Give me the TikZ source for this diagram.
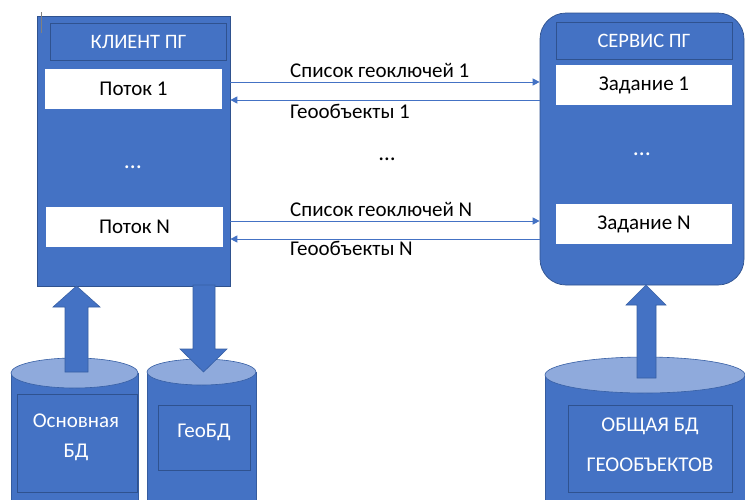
\documentclass[tikz,border=0pt]{standalone}
\usepackage{fontspec}
\setmainfont{Carlito}
\usetikzlibrary{arrows.meta}
\definecolor{ofblue}{HTML}{4472C4}
\definecolor{ofdark}{HTML}{2F528F}
\definecolor{oflight}{HTML}{8FAADC}
\begin{document}
\begin{tikzpicture}[x=1pt,y=-1pt,
  panel/.style={fill=ofblue,draw=ofdark,line width=0.7pt,inner sep=0pt},
  titlebox/.style={fill=ofblue,draw=ofdark,line width=0.7pt,text=white,
    minimum width=176pt,minimum height=37pt,inner sep=0pt,font=\fontsize{20.5}{24}\selectfont},
  itembox/.style={fill=white,draw=none,text=black,minimum width=177pt,minimum height=40pt,
    inner sep=0pt,font=\fontsize{21}{25}\selectfont},
  dotsmark/.style={text=white,font=\fontsize{24}{28}\selectfont,anchor=base,inner sep=0pt},
  flow/.style={draw=ofblue,line width=1pt,-{Triangle[length=7pt,width=7pt]}},
  flowlabel/.style={anchor=base west,inner sep=0pt,font=\fontsize{21}{25}\selectfont},
  dbbody/.style={fill=ofblue,draw=ofdark!70!ofblue,line width=0.6pt},
  dbtop/.style={fill=oflight,draw=ofdark!60!ofblue,line width=0.6pt},
  dbframe/.style={draw=ofdark,line width=0.7pt,fill=ofblue},
  dbtext/.style={text=white,align=center,inner sep=0pt},
  bigarrow/.style={fill=ofblue,draw=ofdark!60!ofblue,line width=0.6pt}]
\useasboundingbox (0,0) rectangle (745,499);
\fill[white] (0,0) rectangle (745,499);

% ---- client
\node[panel,minimum width=193pt,minimum height=270pt] (client) at (133.5,151) {};
\node[titlebox] (ctitle) at (138.5,42) {КЛИЕНТ ПГ};
\node[itembox] (thr1) at (133.5,89) {Поток 1};
\node[itembox] (thrN) at (134.5,227) {Поток N};
\node[dotsmark] (cdots) at (133,168) {…};

% text cursor mark
\draw[gray,line width=0.8pt] (41,12) -- (41,33);

% ---- service
\node[panel,rounded corners=26pt,minimum width=204pt,minimum height=272pt] (service) at (642,149) {};
\node[titlebox] (stitle) at (644,41) {СЕРВИС ПГ};
\node[itembox,minimum width=176pt] (job1) at (644,85) {Задание 1};
\node[itembox,minimum width=176pt] (jobN) at (644,224) {Задание N};
\node[dotsmark] (sdots) at (642,155) {…};

% ---- message arrows
\coordinate (r1) at (0,82);
\coordinate (l1) at (0,100);
\coordinate (rN) at (0,221);
\coordinate (lN) at (0,239);
\draw[flow] (client.east |- r1) -- (service.west |- r1);
\draw[flow] (service.west |- l1) -- (client.east |- l1);
\draw[flow] (client.east |- rN) -- (service.west |- rN);
\draw[flow] (service.west |- lN) -- (client.east |- lN);
\node[flowlabel] (lab1) at (290,77) {Список геоключей 1};
\node[flowlabel] (lab2) at (290,118) {Геообъекты 1};
\node[flowlabel] (lab3) at (290,216) {Список геоключей N};
\node[flowlabel] (lab4) at (290,255) {Геообъекты N};
\node[anchor=base,inner sep=0pt,font=\fontsize{23}{27}\selectfont] (mdots) at (387,160) {…};

% ---- databases
% main DB
\path[dbbody] (11,373) -- (11,520) -- (138,520) -- (138,373) -- cycle;
\path[dbtop] (74.5,373) ellipse [x radius=63.5,y radius=15];
\draw[dbframe] (17,394) rectangle (137,492);
\node[dbtext,font=\fontsize{21}{30}\selectfont] (maindb) at (76,437) {Основная\\БД};
% geo DB
\path[dbbody] (147,372) -- (147,520) -- (256,520) -- (256,372) -- cycle;
\path[dbtop] (201.5,372) ellipse [x radius=54.5,y radius=13];
\draw[dbframe] (158,405) rectangle (250,470);
\node[dbtext,font=\fontsize{21}{25}\selectfont] (geodb) at (204,432) {ГеоБД};
% shared DB
\path[dbbody] (545,375) -- (545,520) -- (745,520) -- (745,375) -- cycle;
\path[dbtop] (645,375) ellipse [x radius=100,y radius=18];
\draw[dbframe] (568,405) rectangle (732,492);
\node[dbtext,font=\fontsize{21}{40}\selectfont] (shareddb) at (650,445) {ОБЩАЯ БД\\ГЕООБЪЕКТОВ};

% ---- block arrows
\path[bigarrow] (65,372) -- (65,307) -- (53,307) -- (76.5,286) -- (100,307) -- (88,307) -- (88,372) -- cycle;
\path[bigarrow] (193,285) -- (193,349) -- (180,349) -- (203.5,372) -- (227,349) -- (215,349) -- (215,285) -- cycle;
\path[bigarrow] (637,378) -- (637,305) -- (626,305) -- (646,285) -- (666,305) -- (656,305) -- (656,378) -- cycle;
\end{tikzpicture}
\end{document}
